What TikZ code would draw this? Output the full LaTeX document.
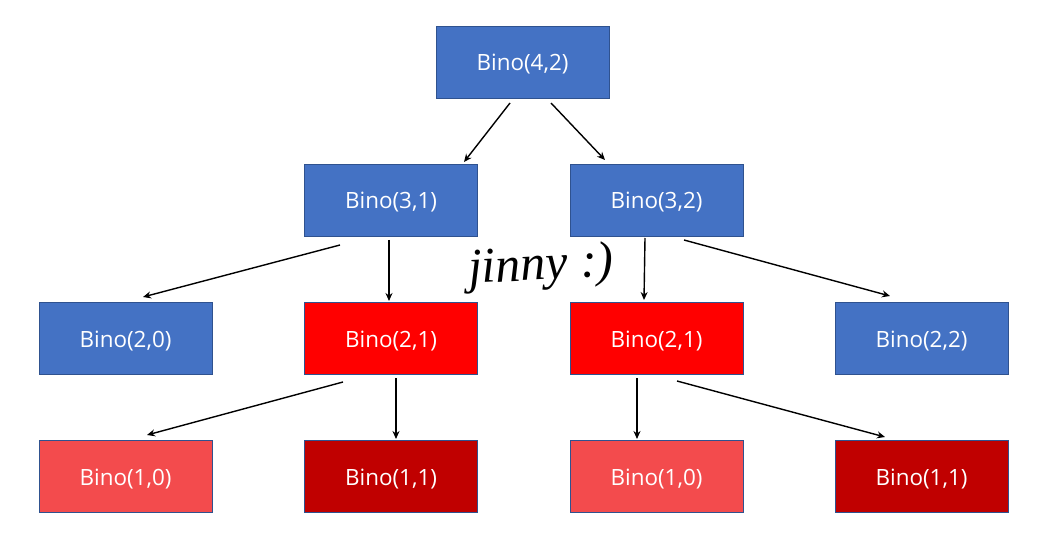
\documentclass[tikz,border=0pt]{standalone}
\usepackage{fontspec}
\usetikzlibrary{arrows.meta}
\setmainfont{Open Sans}
\newfontfamily\handfont{Liberation Serif}
\definecolor{cblue}{HTML}{4472C4}
\definecolor{cborder}{HTML}{2F528F}
\definecolor{cred}{HTML}{FF0000}
\definecolor{clred}{HTML}{F34B4D}
\definecolor{cdred}{HTML}{C00000}
\begin{document}
\begin{tikzpicture}[x=1bp,y=-1bp,
  box/.style={draw=cborder, line width=0.8bp, minimum width=173bp, minimum height=72bp, inner sep=0pt, text=white, text height=21bp, text depth=3.8bp, font=\fontsize{22.5}{26}\selectfont},
  arr/.style={-{Stealth[length=8bp,width=7bp]}, line width=1.4bp, black}]
\useasboundingbox (0,0) rectangle (1050,556);
\node[box, fill=cblue] (n42) at (522.5,62) {Bino(4,2)};
\node[box, fill=cblue] (n31) at (391,200) {Bino(3,1)};
\node[box, fill=cblue] (n32) at (656.5,200) {Bino(3,2)};
\node[box, fill=cblue] (n20) at (125.5,338.5) {Bino(2,0)};
\node[box, fill=cred] (n21a) at (391,338.5) {Bino(2,1)};
\node[box, fill=cred] (n21b) at (656.5,338.5) {Bino(2,1)};
\node[box, fill=cblue] (n22) at (921.5,338.5) {Bino(2,2)};
\node[box, fill=clred] (n10a) at (125.5,476.5) {Bino(1,0)};
\node[box, fill=cdred] (n11a) at (391,476.5) {Bino(1,1)};
\node[box, fill=clred] (n10b) at (656.5,476.5) {Bino(1,0)};
\node[box, fill=cdred] (n11b) at (921.5,476.5) {Bino(1,1)};
% arrow endpoints (arrows float between boxes)
\coordinate (a1s) at (510,103); \coordinate (a1e) at (464,162);
\coordinate (a2s) at (551,103); \coordinate (a2e) at (605,160);
\coordinate (a3s) at (340,245); \coordinate (a3e) at (143,297);
\coordinate (a4s) at (389,240); \coordinate (a4e) at (389,301);
\coordinate (a5s) at (645,238); \coordinate (a5e) at (644,300);
\coordinate (a6s) at (684,240); \coordinate (a6e) at (890,296);
\coordinate (a7s) at (343,382); \coordinate (a7e) at (147,435);
\coordinate (a8s) at (396,378); \coordinate (a8e) at (396,439);
\coordinate (a9s) at (637,378); \coordinate (a9e) at (637,439);
\coordinate (a10s) at (677,381); \coordinate (a10e) at (885,437);
\foreach \i in {1,...,10} \draw[arr] (a\i s) -- (a\i e);
\node[font=\handfont\itshape\fontsize{50}{50}\selectfont, rotate=3] (sig) at (541,268) {jinny :)};
\end{tikzpicture}
\end{document}
